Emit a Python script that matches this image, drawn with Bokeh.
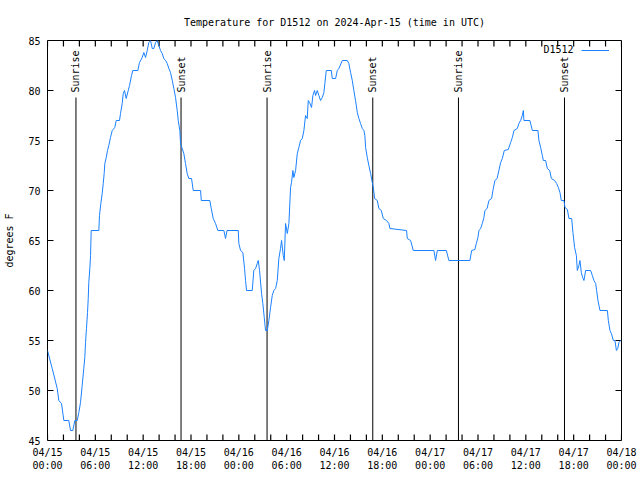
import math
from bokeh.plotting import figure
from bokeh.models import Range1d, FixedTicker, LinearAxis, ColumnDataSource, Legend, LegendItem, Label
from bokeh.core.properties import value
from bokeh.embed import file_html
from bokeh.resources import INLINE

# ---- data (hours since 2024-04-15 00:00 UTC, degrees F) ----
hours = [0.00, 0.59, 1.22, 1.42, 1.76, 2.05, 2.67, 2.89, 3.17, 3.43, 3.73, 3.93, 4.14, 4.35, 4.55,
         4.68, 4.77, 4.89, 5.02, 5.11, 5.18, 5.31, 5.40, 5.48, 6.44, 6.52, 6.69, 6.86, 6.99, 7.11,
         7.19, 7.37, 7.53, 7.69, 7.90, 8.12, 8.44, 8.62, 9.03, 9.16, 9.37, 9.50, 9.66, 9.87, 10.13,
         10.29, 10.54, 10.70, 11.33, 11.54, 11.88, 12.08, 12.30, 12.51, 12.71, 12.92, 13.14, 13.34,
         13.55, 13.76, 13.96, 14.18, 14.39, 14.59, 14.81, 15.02, 15.22, 15.43, 15.65, 15.85, 16.06,
         16.27, 16.40, 16.60, 16.69, 16.90, 17.10, 17.31, 17.52, 17.73, 18.07, 18.28, 19.20, 19.29,
         20.36, 20.54, 20.79, 21.08, 21.37, 22.12, 22.33, 22.52, 23.93, 24.00, 24.22, 24.50, 24.72,
         24.84, 24.97, 25.68, 25.88, 26.10, 26.31, 26.44, 26.60, 26.85, 27.01, 27.19, 27.35, 27.57,
         27.77, 27.98, 28.19, 28.39, 28.61, 28.82, 29.02, 29.23, 29.36, 29.57, 29.70, 29.86, 30.08,
         30.28, 30.49, 30.61, 30.78, 30.90, 31.12, 31.33, 31.53, 31.74, 31.96, 32.16, 32.37, 32.58,
         32.71, 32.87, 33.12, 33.29, 33.50, 33.63, 33.84, 34.04, 34.25, 34.47, 34.67, 34.79, 34.97,
         35.60, 35.72, 36.14, 36.35, 36.55, 36.98, 37.60, 37.80, 38.02, 38.23, 38.43, 38.64, 38.86,
         39.06, 39.27, 39.49, 39.69, 39.81, 39.90, 40.11, 40.31, 40.53, 40.74, 40.87, 41.03, 41.37,
         41.57, 41.87, 42.12, 42.53, 42.82, 42.95, 45.04, 45.13, 45.55, 45.88, 48.47, 48.68, 48.90,
         50.03, 50.35, 52.99, 53.20, 53.61, 53.79, 53.99, 54.12, 54.33, 54.54, 54.74, 54.87, 55.14,
         55.37, 55.71, 55.87, 56.12, 56.40, 56.62, 56.84, 57.05, 57.30, 57.80, 58.09, 58.31, 58.51,
         58.93, 59.13, 59.35, 59.56, 59.69, 59.76, 60.51, 60.82, 61.52, 61.64, 61.86, 62.07, 62.20,
         62.48, 62.70, 62.99, 63.20, 63.61, 63.86, 64.08, 64.28, 64.45, 64.78, 64.91, 65.21, 65.41,
         65.75, 65.91, 66.12, 66.34, 66.46, 66.66, 66.79, 66.96, 67.13, 67.29, 67.50, 68.13, 68.34,
         68.54, 68.76, 68.88, 69.05, 69.30, 70.23, 70.35, 70.55, 70.73, 70.98, 71.18, 71.36, 71.52,
         71.68, 71.89, 72.00]
temps = [54.0, 52.2, 50.2, 49.0, 48.7, 47.0, 47.0, 46.0, 46.0, 47.0, 47.0, 47.8, 48.8, 50.5, 52.2,
         53.3, 54.8, 56.2, 57.8, 59.2, 60.8, 62.2, 63.5, 66.0, 66.0, 67.5, 68.7, 69.7, 70.7, 71.7,
         72.7, 73.3, 74.0, 74.5, 75.3, 76.0, 76.3, 77.0, 77.0, 77.7, 78.7, 79.7, 80.0, 79.2, 80.0,
         80.5, 81.5, 82.0, 82.0, 82.8, 83.3, 83.8, 83.3, 84.0, 84.8, 85.0, 84.2, 84.2,
         84.8, 85.0, 84.5, 84.0, 83.7, 83.2, 83.0, 82.7, 82.2, 81.8, 81.0, 80.2, 79.3,
         78.0, 77.0, 76.0, 74.7, 74.2, 73.7, 72.7, 71.7, 71.2, 71.2, 70.0, 70.0, 69.0,
         69.0, 68.2, 67.2, 66.7, 66.0, 66.0, 65.2, 66.0, 66.0, 64.7, 64.0, 63.8, 62.2,
         61.0, 60.0, 60.0, 62.0, 62.2, 62.7, 63.0, 62.0, 59.7, 58.7, 57.3, 56.0, 56.0,
         57.0, 58.3, 59.5, 60.0, 60.2, 61.0, 63.2, 64.2, 65.0, 63.5, 63.0, 66.7, 65.7,
         66.7, 70.3, 70.8, 72.0, 71.3, 72.0, 73.7, 74.3, 75.0, 75.2, 76.0, 77.5, 77.2,
         79.0, 78.8, 78.3, 79.5, 80.0, 79.5, 80.0, 79.5, 79.0, 79.3, 79.8, 80.7, 82.0,
         82.0, 81.2, 81.2, 82.0, 82.2, 83.0, 83.0, 82.7, 81.8, 81.0, 80.0, 79.0, 77.8,
         77.2, 76.7, 76.2, 76.0, 75.5, 74.3, 73.3, 72.5, 71.7, 70.8, 70.3, 69.2, 69.0,
         68.2, 68.0, 67.2, 67.0, 66.7, 66.2, 66.0, 65.2, 65.0, 64.0, 64.0, 63.0, 64.0,
         64.0, 63.0, 63.0, 64.0, 64.1, 64.7, 65.3, 66.0, 66.2, 66.7, 67.3, 68.0, 68.2,
         69.0, 69.2, 70.0, 71.0, 71.2, 72.0, 72.8, 73.2, 74.0, 74.1, 74.8, 75.3, 76.0,
         76.2, 76.7, 77.0, 77.5, 78.0, 77.0, 77.0, 76.0, 76.0, 75.0, 74.3, 73.5, 73.0,
         73.0, 72.2, 72.0, 71.2, 71.0, 70.7, 70.3, 69.8, 69.0, 69.0, 68.3, 68.1, 67.2,
         67.2, 65.8, 64.3, 63.5, 62.0, 62.5, 63.0, 61.8, 61.3, 61.0, 62.0, 62.0, 61.5,
         61.0, 60.7, 60.0, 59.0, 58.0, 58.0, 57.0, 56.0, 55.7, 55.0, 55.0, 54.0, 54.2,
         54.8, 55.0, 55.0]

sun_hours = [3.57, 16.75, 27.54, 40.80, 51.55, 64.85]
sun_labels = ["Sunrise", "Sunset", "Sunrise", "Sunset", "Sunrise", "Sunset"]
sun_line_top = 79.3
sun_text_y = 79.8

tick_hours = [0, 6, 12, 18, 24, 30, 36, 42, 48, 54, 60, 66, 72]
tick_labels = ["04/15\n00:00", "04/15\n06:00", "04/15\n12:00", "04/15\n18:00",
               "04/16\n00:00", "04/16\n06:00", "04/16\n12:00", "04/16\n18:00",
               "04/17\n00:00", "04/17\n06:00", "04/17\n12:00", "04/17\n18:00",
               "04/18\n00:00"]
minor_hours = list(range(0, 73, 2))
y_ticks = [45, 50, 55, 60, 65, 70, 75, 80, 85]
series_name = "D1512"

X0, X1, Y0, Y1 = 0, 72, 45, 85
FW, FH = 574, 400
FONT = "DejaVu Sans Mono"
FS = "10px"
LINE_COLOR = "#1a80ff"
TICK_LEN = 6  # px
TDX = TICK_LEN * (X1 - X0) / FW
TDY = TICK_LEN * (Y1 - Y0) / FH

p = figure(output_backend="svg", toolbar_location=None,
           frame_width=FW, frame_height=FH,
           x_range=Range1d(X0, X1), y_range=Range1d(Y0, Y1),
           min_border_left=47, min_border_right=19, min_border_top=40, min_border_bottom=40,
           x_axis_location=None, y_axis_location=None)
p.title.text = "Temperature for D1512 on 2024-Apr-15 (time in UTC)"
p.title.align = "center"
p.title.text_font = FONT
p.title.text_font_size = FS
p.title.text_font_style = "normal"
p.title.text_color = "black"
p.title.standoff = 26
p.xgrid.visible = False
p.ygrid.visible = False
p.outline_line_color = "black"
p.outline_line_width = 1
p.background_fill_color = "white"
p.border_fill_color = "white"

xt = FixedTicker(ticks=tick_hours, minor_ticks=[])
yt = FixedTicker(ticks=y_ticks, minor_ticks=[])

def style_axis(ax):
    ax.axis_line_color = None
    ax.major_tick_in = 0
    ax.major_tick_out = 0
    ax.minor_tick_in = 0
    ax.minor_tick_out = 0
    ax.major_tick_line_color = None
    ax.minor_tick_line_color = None
    ax.major_label_text_font = FONT
    ax.major_label_text_font_size = FS
    ax.major_label_text_color = "black"
    ax.axis_label_text_font = FONT
    ax.axis_label_text_font_size = FS
    ax.axis_label_text_font_style = "normal"
    ax.axis_label_text_color = "black"

bx = LinearAxis(ticker=xt)
bx.major_label_overrides = {h: lab for h, lab in zip(tick_hours, tick_labels)}
style_axis(bx)
bx.major_label_standoff = 6
p.add_layout(bx, "below")

ly = LinearAxis(ticker=yt, axis_label="degrees F")
style_axis(ly)
ly.major_label_standoff = 7
ly.axis_label_standoff = 10
p.add_layout(ly, "left")

# inward tick marks on all four sides
nx, ny = len(minor_hours), len(y_ticks)
tick_src = ColumnDataSource(dict(
    x0=minor_hours + minor_hours + [X0] * ny + [X1] * ny,
    y0=[Y0] * nx + [Y1] * nx + y_ticks + y_ticks,
    x1=minor_hours + minor_hours + [X0 + TDX] * ny + [X1 - TDX] * ny,
    y1=[Y0 + TDY] * nx + [Y1 - TDY] * nx + y_ticks + y_ticks))
p.segment(x0="x0", y0="y0", x1="x1", y1="y1", source=tick_src,
          line_color="#000000", line_width=1.2)

# sunrise / sunset markers
sun_src = ColumnDataSource(dict(x=sun_hours, y0=[Y0] * len(sun_hours),
                                y1=[sun_line_top] * len(sun_hours),
                                ty=[sun_text_y] * len(sun_hours), t=sun_labels))
p.segment(x0="x", y0="y0", x1="x", y1="y1", source=sun_src, line_color="black", line_width=1)
p.text(x="x", y="ty", text="t", source=sun_src, angle=math.pi / 2,
       text_align="left", text_baseline="middle", text_font=value(FONT),
       text_font_size=FS, text_color="black")

r = p.line(hours, temps, line_color=LINE_COLOR, line_width=1)

# gnuplot-style key: name on the left, line sample on the right
leg = Legend(items=[LegendItem(label=" ", renderers=[r])], location="top_right")
leg.border_line_color = None
leg.background_fill_alpha = 0
leg.label_text_font = FONT
leg.label_text_font_size = FS
leg.glyph_width = 28
leg.glyph_height = 10
leg.label_height = 10
leg.label_width = 7
leg.padding = 3
leg.margin = 5
leg.label_standoff = 0
p.add_layout(leg, "center")

key_text = Label(x=X1, y=Y1, x_offset=-48, y_offset=-9, text=series_name,
                 text_align="right", text_baseline="middle",
                 text_font=FONT, text_font_size=FS, text_color="black")
p.add_layout(key_text)

open("out.html", "w").write(file_html(p, INLINE))
